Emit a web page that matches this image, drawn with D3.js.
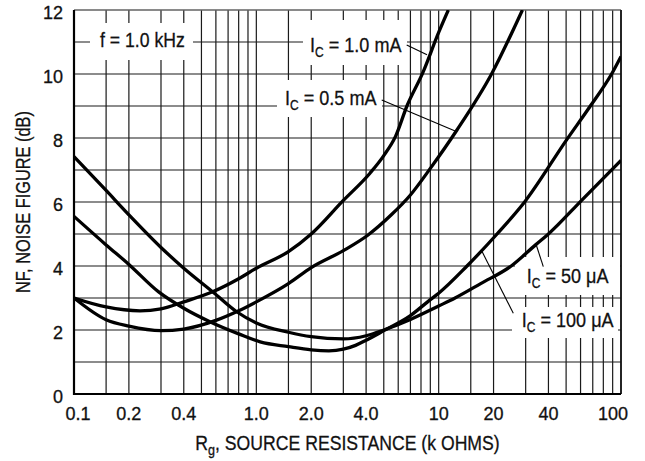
<!DOCTYPE html>
<html>
<head>
<meta charset="utf-8">
<script src="https://cdn.jsdelivr.net/npm/d3@7/dist/d3.min.js"></script>
<style>
  html, body { margin: 0; padding: 0; background: #fff; }
  svg text { font-family: "Liberation Sans", Arial, sans-serif; fill: #111; stroke: #111; stroke-width: 0.3; }
</style>
</head>
<body>
<div id="chart"></div>
<script>
// source resistance (k ohms) vs noise figure (dB)
var ic1mA = [[0.1,3.0],[0.15,2.72],[0.23,2.6],[0.3,2.66],[0.4,2.88],[0.58,3.2],[0.8,3.6],[1.0,3.93],[1.5,4.45],[2.0,5.0],[3.0,6.05],[4.2,6.9],[5.0,7.45],[5.8,8.05],[6.7,9.0],[8.2,10.05],[10,11.3],[11.3,12.0]];
var ic05mA = [[0.1,3.0],[0.15,2.32],[0.2,2.12],[0.3,1.98],[0.4,2.03],[0.6,2.3],[0.8,2.6],[1.0,2.88],[1.5,3.45],[2.0,3.95],[3.0,4.48],[4.1,4.97],[5.5,5.6],[7.0,6.22],[9.0,7.05],[12.6,8.25],[19.5,10.0],[28.8,12.0]];
var ic50uA = [[0.1,7.42],[0.15,6.36],[0.2,5.6],[0.3,4.58],[0.4,3.93],[0.58,3.18],[0.78,2.57],[1.0,2.22],[1.5,1.93],[2.0,1.79],[3.0,1.72],[4.0,1.82],[5.0,2.0],[7.0,2.33],[10,2.75],[12.3,3.0],[17,3.45],[25,4.0],[34,4.66],[40,5.0],[61,6.06],[100,7.3]];
var ic100uA = [[0.1,5.55],[0.15,4.66],[0.2,4.05],[0.29,3.2],[0.4,2.68],[0.556,2.26],[0.8,1.88],[1.05,1.63],[1.5,1.48],[2.0,1.38],[2.5,1.35],[3.0,1.4],[3.5,1.52],[4.0,1.68],[5.0,1.98],[7.0,2.45],[9.0,2.95],[10,3.15],[14.3,4.0],[20.9,5.0],[29.6,6.0],[50.4,7.95],[67.9,9.0],[88.8,10.0],[100,10.55]];

var xTickValues = [0.1, 0.2, 0.4, 1, 2, 4, 10, 20, 40, 100];
var xTickLabels = ["0.1", "0.2", "0.4", "1.0", "2.0", "4.0", "10", "20", "40", "100"];
var yTickValues = [0, 2, 4, 6, 8, 10, 12];

var margin = { top: 10, left: 74, right: 24, bottom: 67 },
    width = 645 - margin.left - margin.right,
    height = 461 - margin.top - margin.bottom;

var svg = d3.select("#chart")
    .append("svg")
    .attr("width", 645)
    .attr("height", 461);

var g = svg.append("g")
    .attr("transform", "translate(" + margin.left + "," + margin.top + ")");

var x = d3.scaleLog().domain([0.1, 100]).range([0, width]);
var y = d3.scaleLinear().domain([0, 12]).range([height, 0]);

// grid: 1, 1.5, 2 ... 9 per decade, every dB
var xGrid = [];
[0.1, 1, 10].forEach(function(dec) {
    [1, 1.5, 2, 3, 4, 5, 6, 7, 8, 9].forEach(function(m) { xGrid.push(dec * m); });
});
xGrid.push(100);
var yGrid = d3.range(0, 13, 1);

g.selectAll(".vgrid")
    .data(xGrid)
    .enter()
    .append("line")
    .attr("x1", function(d) { return x(d); })
    .attr("x2", function(d) { return x(d); })
    .attr("y1", 0)
    .attr("y2", height)
    .attr("stroke", "#1a1a1a")
    .attr("stroke-width", 1.2);

g.selectAll(".hgrid")
    .data(yGrid)
    .enter()
    .append("line")
    .attr("x1", 0)
    .attr("x2", width)
    .attr("y1", function(d) { return y(d); })
    .attr("y2", function(d) { return y(d); })
    .attr("stroke", "#1a1a1a")
    .attr("stroke-width", 1.2);

// frame
g.append("line").attr("x1", 0).attr("x2", width).attr("y1", 0).attr("y2", 0)
    .attr("stroke", "#888").attr("stroke-width", 1);
g.append("line").attr("x1", width).attr("x2", width).attr("y1", 0).attr("y2", height)
    .attr("stroke", "#111").attr("stroke-width", 1.6);
g.append("line").attr("x1", 0).attr("x2", 0).attr("y1", 0).attr("y2", height + 1)
    .attr("stroke", "#000").attr("stroke-width", 2.2);
g.append("line").attr("x1", -1).attr("x2", width).attr("y1", height).attr("y2", height)
    .attr("stroke", "#000").attr("stroke-width", 2.2);

// white boxes behind the labels
var boxes = [
    { x: 16, y: 13, w: 103, h: 37 },
    { x: 229, y: 10, w: 104, h: 45 },
    { x: 203, y: 70, w: 105, h: 37 },
    { x: 441, y: 247, w: 105, h: 38 },
    { x: 438, y: 297, w: 106, h: 31 }
];
g.selectAll(".box")
    .data(boxes)
    .enter()
    .append("rect")
    .attr("x", function(d) { return d.x; })
    .attr("y", function(d) { return d.y; })
    .attr("width", function(d) { return d.w; })
    .attr("height", function(d) { return d.h; })
    .attr("fill", "#fff");

g.append("clipPath").attr("id", "plot-clip")
    .append("rect").attr("width", width).attr("height", height);

var line = d3.line()
    .x(function(d) { return x(d[0]); })
    .y(function(d) { return y(d[1]); })
    .curve(d3.curveMonotoneX);

g.selectAll(".curve")
    .data([ic1mA, ic05mA, ic50uA, ic100uA])
    .enter()
    .append("path")
    .attr("clip-path", "url(#plot-clip)")
    .attr("d", line)
    .attr("fill", "none")
    .attr("stroke", "#000")
    .attr("stroke-width", 3.3)
    .attr("stroke-linejoin", "round");

// leaders from label to curve
var leaders = [
    { x1: 332.7, y1: 35, to: [8.63, 10.6] },
    { x1: 307.7, y1: 90, to: [12.5, 8.2] },
    { x1: 469.3, y1: 256.7, to: [34.2, 4.68] },
    { x1: 439.3, y1: 303.3, to: [17.3, 4.45] }
];
g.selectAll(".leader")
    .data(leaders)
    .enter()
    .append("line")
    .attr("x1", function(d) { return d.x1; })
    .attr("y1", function(d) { return d.y1; })
    .attr("x2", function(d) { return x(d.to[0]); })
    .attr("y2", function(d) { return y(d.to[1]); })
    .attr("stroke", "#000")
    .attr("stroke-width", 1.1);

// condensed text: scale horizontally inside a translated group
function ctext(px, py, size, sx, anchor, rot) {
    return g.append("text")
        .attr("transform", "translate(" + px + "," + py + ")" + (rot ? " rotate(" + rot + ")" : "") + " scale(" + sx + ",1)")
        .attr("text-anchor", anchor || "start")
        .attr("font-size", size);
}

ctext(26, 37, 21, 0.84).text("f = 1.0 kHz");

function icLabel(px, py, rest) {
    var t = ctext(px, py, 21, 0.86);
    t.append("tspan").text("I");
    t.append("tspan").attr("font-size", 14).attr("dy", 5).text("C");
    t.append("tspan").attr("dy", -5).text(" = " + rest);
}
icLabel(236, 41.7, "1.0 mA");
icLabel(211, 95, "0.5 mA");
icLabel(452.7, 273.3, "50 \u03bcA");
icLabel(447.7, 316.7, "100 \u03bcA");

// tick labels
g.selectAll(".ylab")
    .data(yTickValues)
    .enter()
    .append("text")
    .attr("x", -11)
    .attr("y", function(d) { return y(d) + 9; })
    .attr("text-anchor", "end")
    .attr("font-size", 18)
    .text(function(d) { return d; });

g.selectAll(".xlab")
    .data(xTickValues)
    .enter()
    .append("text")
    .attr("x", function(d, i) { return x(d) + (i === 0 ? 4 : (i === xTickValues.length - 1 ? -8 : 0)); })
    .attr("y", height + 26)
    .attr("text-anchor", "middle")
    .attr("font-size", 18)
    .text(function(d, i) { return xTickLabels[i]; });

// axis titles
var xt = ctext(width / 2, height + 56, 21, 0.84, "middle");
xt.append("tspan").text("R");
xt.append("tspan").attr("font-size", 15).attr("dy", 5).text("g");
xt.append("tspan").attr("dy", -5).text(", SOURCE RESISTANCE (k OHMS)");

ctext(-44, height / 2, 21, 0.78, "middle", -90).text("NF, NOISE FIGURE (dB)");
</script>
</body>
</html>
